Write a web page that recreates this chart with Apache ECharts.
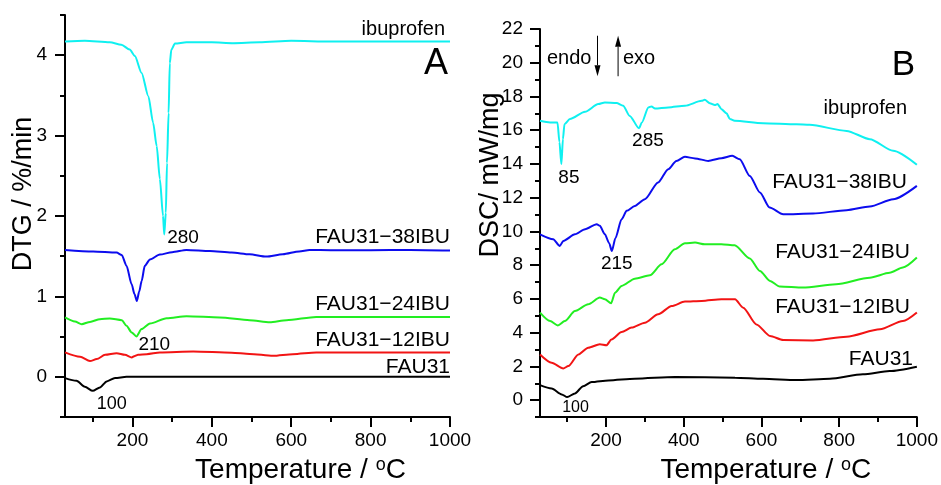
<!DOCTYPE html>
<html>
<head>
<meta charset="utf-8">
<script src="https://cdn.jsdelivr.net/npm/echarts@6/dist/echarts.min.js"></script>
<style>
  html, body { margin: 0; padding: 0; background: #fff; }
  #chart { width: 941px; height: 485px; }
</style>
</head>
<body>
<div id="chart"></div>
<script>
// ---------- Panel A: DTG (%/min) vs temperature (°C) ----------
const dtgIbuT = [30, 80, 143, 172, 193, 206, 223, 240, 252, 261, 269, 277, 280, 284, 287, 291, 294, 298, 307, 336, 400, 453, 520, 600, 700, 800, 900, 1000];
const dtgIbuV = [4.17, 4.18, 4.16, 4.13, 4.07, 3.99, 3.78, 3.49, 3.16, 2.87, 2.46, 2.0, 1.77, 2.04, 2.66, 3.28, 3.9, 4.07, 4.145, 4.16, 4.16, 4.15, 4.16, 4.18, 4.17, 4.17, 4.17, 4.17];

const dtg38T = [30, 101, 160, 173, 185, 198, 205, 211, 217, 223, 231, 244, 269, 300, 336, 395, 450, 495, 537, 579, 620, 646, 700, 800, 900, 1000];
const dtg38V = [1.578, 1.558, 1.545, 1.515, 1.38, 1.15, 1.03, 0.944, 1.06, 1.19, 1.38, 1.46, 1.52, 1.55, 1.578, 1.565, 1.545, 1.524, 1.495, 1.524, 1.56, 1.578, 1.575, 1.575, 1.578, 1.57];

const dtg24T = [30, 55, 72, 93, 118, 143, 173, 185, 198, 210, 223, 244, 286, 336, 420, 495, 546, 588, 663, 800, 1000];
const dtg24V = [0.738, 0.688, 0.655, 0.683, 0.717, 0.725, 0.704, 0.634, 0.552, 0.502, 0.593, 0.663, 0.729, 0.754, 0.738, 0.704, 0.68, 0.704, 0.745, 0.745, 0.745];

const dtg12T = [30, 68, 93, 110, 131, 160, 181, 198, 206, 214, 236, 269, 353, 450, 495, 554, 604, 663, 800, 1000];
const dtg12V = [0.303, 0.248, 0.195, 0.22, 0.273, 0.294, 0.273, 0.24, 0.26, 0.273, 0.282, 0.303, 0.315, 0.3, 0.285, 0.261, 0.282, 0.303, 0.303, 0.303];

const dtgFauT = [30, 59, 80, 100, 118, 135, 156, 185, 300, 500, 700, 1000];
const dtgFauV = [-0.016, -0.05, -0.124, -0.175, -0.132, -0.057, -0.016, 0, 0, 0, 0, 0];

const dtgPeakT = [280, 210, 100];          // ibuprofen, FAU31−24IBU, FAU31

// ---------- Panel B: DSC (mW/mg) vs temperature (°C) ----------
const dscIbuT = [30, 56, 75, 80, 85, 89, 93, 107, 146, 180, 197, 227, 244, 261, 285, 292, 309, 317, 326, 360, 403, 446, 454, 467, 480, 487, 497, 510, 519, 531, 604, 690, 724, 819, 879, 939, 1000];
const dscIbuV = [16.56, 16.46, 16.46, 15.3, 13.99, 15.47, 16.36, 16.66, 17.09, 17.55, 17.65, 17.61, 17.45, 16.85, 16.11, 16.46, 17.35, 17.41, 17.29, 17.35, 17.45, 17.74, 17.8, 17.6, 17.49, 17.55, 17.25, 17.0, 16.66, 16.56, 16.42, 16.36, 16.32, 15.96, 15.47, 14.78, 13.95];

const dsc38T = [30, 64, 81, 90, 120, 146, 176, 184, 197, 208, 215, 224, 240, 253, 274, 300, 334, 360, 381, 403, 429, 463, 497, 525, 544, 570, 596, 621, 656, 733, 819, 879, 939, 1000];
const dsc38V = [9.83, 9.54, 9.14, 9.44, 9.83, 10.13, 10.43, 10.33, 9.83, 9.3, 8.84, 9.6, 10.72, 11.22, 11.51, 11.91, 12.9, 13.69, 14.18, 14.42, 14.33, 14.18, 14.34, 14.48, 14.28, 13.29, 12.31, 11.42, 11.02, 11.06, 11.26, 11.48, 11.91, 12.7];

const dsc24T = [30, 56, 76, 94, 120, 154, 184, 197, 213, 223, 240, 274, 313, 343, 377, 403, 429, 454, 497, 531, 570, 596, 622, 647, 707, 792, 879, 930, 964, 1000];
const dsc24V = [5.19, 4.69, 4.43, 4.69, 5.28, 5.68, 6.08, 5.98, 5.74, 6.37, 6.77, 7.2, 7.4, 8.05, 8.94, 9.3, 9.34, 9.24, 9.24, 9.18, 8.4, 7.66, 7.06, 6.73, 6.67, 6.87, 7.26, 7.55, 7.86, 8.45];

const dsc12T = [30, 60, 90, 103, 129, 154, 184, 201, 214, 240, 266, 300, 334, 369, 403, 446, 497, 532, 553, 587, 622, 656, 733, 819, 905, 964, 1000];
const dsc12V = [2.71, 2.22, 1.88, 2.02, 2.71, 3.11, 3.31, 3.25, 3.6, 4.04, 4.3, 4.59, 5.09, 5.58, 5.84, 5.88, 5.98, 5.98, 5.48, 4.49, 3.8, 3.56, 3.54, 3.76, 4.2, 4.69, 5.2];

const dscFauT = [30, 60, 86, 100, 120, 141, 163, 206, 274, 377, 532, 604, 690, 776, 861, 930, 1000];
const dscFauV = [0.89, 0.69, 0.34, 0.18, 0.4, 0.83, 1.07, 1.17, 1.27, 1.37, 1.33, 1.27, 1.19, 1.27, 1.53, 1.72, 1.98];

const dscPeakT = [85, 285, 215, 100];      // ibuprofen (x2), FAU31−38IBU, FAU31

// Axis tick values
const tempMajor = [200, 400, 600, 800, 1000];
const tempMinor = [100, 300, 500, 700, 900];
const dtgMajor = [0, 1, 2, 3, 4];
const dtgMinor = [-0.5, 0.5, 1.5, 2.5, 3.5, 4.5];
const dscMajor = [0, 2, 4, 6, 8, 10, 12, 14, 16, 18, 20, 22];
const dscMinor = [-1, 1, 3, 5, 7, 9, 11, 13, 15, 17, 19, 21];

// Endo / exo direction arrows (temperature, DSC value at tail and at head)
const endoArrow = { t: 178, from: 21.6, to: 19.2 };
const exoArrow = { t: 231, from: 19.2, to: 21.6 };

// ---------- styling ----------
const FONT = "'Liberation Sans', Arial, Helvetica, sans-serif";
const COL = { cyan: '#0ff0f0', blue: '#0c0cee', green: '#22ee22', red: '#f21414', black: '#000000' };

const pairs = (t, v) => t.map((x, i) => [x, v[i]]);
const valueAt = (t, v, x) => v[t.indexOf(x)];

function peakMark(t, v, peaks) {
  return {
    symbol: 'circle',
    symbolSize: 1,
    itemStyle: { color: 'rgba(0,0,0,0)' },
    silent: true,
    animation: false,
    data: peaks.map(p => ({
      coord: [p.t, valueAt(t, v, p.t)],
      value: p.t,
      label: {
        show: true, position: 'inside', formatter: '{c}',
        align: 'left', verticalAlign: 'middle',
        offset: p.offset, color: '#000', fontFamily: FONT, fontSize: p.size || 19
      }
    }))
  };
}

function curve(name, t, v, panel, color, extra) {
  return Object.assign({
    name, type: 'line',
    xAxisIndex: panel * 2, yAxisIndex: panel * 2,
    data: pairs(t, v),
    showSymbol: false, symbol: 'none',
    smooth: 0.25, smoothMonotone: 'x',
    lineStyle: { color, width: 2 },
    itemStyle: { color },
    animation: false, silent: true, z: 3
  }, extra || {});
}

function valueAxis(gridIndex, position, min, max, labels, ticks, shown, margin) {
  return {
    type: 'value', gridIndex, position, min, max,
    axisLine: { show: shown, onZero: false, lineStyle: { color: '#000', width: 2 } },
    axisTick: { show: true, inside: false, customValues: ticks, length: shown ? 10 : 5, lineStyle: { color: '#000', width: 2 } },
    axisLabel: shown
      ? { show: true, customValues: labels, formatter: val => String(val), color: '#000', fontFamily: FONT, fontSize: 19, margin }
      : { show: false },
    splitLine: { show: false }
  };
}

const chart = echarts.init(document.getElementById('chart'), null, { renderer: 'canvas' });

const series = [
  curve('ibuprofen', dtgIbuT, dtgIbuV, 0, COL.cyan, {
    markPoint: peakMark(dtgIbuT, dtgIbuV, [{ t: dtgPeakT[0], offset: [3, 3] }])
  }),
  curve('FAU31−38IBU', dtg38T, dtg38V, 0, COL.blue),
  curve('FAU31−24IBU', dtg24T, dtg24V, 0, COL.green, {
    markPoint: peakMark(dtg24T, dtg24V, [{ t: dtgPeakT[1], offset: [2, 8] }])
  }),
  curve('FAU31−12IBU', dtg12T, dtg12V, 0, COL.red),
  curve('FAU31', dtgFauT, dtgFauV, 0, COL.black, {
    markPoint: peakMark(dtgFauT, dtgFauV, [{ t: dtgPeakT[2], offset: [4, 13], size: 18 }])
  }),

  curve('ibuprofen', dscIbuT, dscIbuV, 1, COL.cyan, {
    markPoint: peakMark(dscIbuT, dscIbuV, [
      { t: dscPeakT[0], offset: [-3, 14] },
      { t: dscPeakT[1], offset: [-7, 12] }
    ])
  }),
  curve('FAU31−38IBU', dsc38T, dsc38V, 1, COL.blue, {
    markPoint: peakMark(dsc38T, dsc38V, [{ t: dscPeakT[2], offset: [-11, 13] }])
  }),
  curve('FAU31−24IBU', dsc24T, dsc24V, 1, COL.green),
  curve('FAU31−12IBU', dsc12T, dsc12V, 1, COL.red),
  curve('FAU31', dscFauT, dscFauV, 1, COL.black, {
    markPoint: peakMark(dscFauT, dscFauV, [{ t: dscPeakT[3], offset: [-5, 10], size: 16 }])
  })
];

function txt(text, x, y, size, align, extra) {
  return Object.assign({
    type: 'text', x, y, silent: true, z: 10,
    style: { text, font: `${size}px ${FONT}`, fill: '#000', align: align || 'right', verticalAlign: 'middle' }
  }, extra || {});
}

function tempTitle(cx, cy) {
  return {
    type: 'text', x: cx, y: cy, silent: true, z: 10,
    style: {
      text: '{a|Temperature / }{b|o}{a|C}',
      align: 'center', verticalAlign: 'middle', fill: '#000',
      rich: {
        a: { fontFamily: FONT, fontSize: 28, lineHeight: 28, fill: '#000' },
        b: { fontFamily: FONT, fontSize: 18, lineHeight: 12, verticalAlign: 'top', fill: '#000' }
      }
    }
  };
}

const option = {
  backgroundColor: '#ffffff',
  animation: false,
  grid: [
    { left: 65, top: 15, width: 385, height: 402, containLabel: false },
    { left: 540, top: 29, width: 377, height: 388, containLabel: false }
  ],
  xAxis: [
    valueAxis(0, 'bottom', 30, 1000, tempMajor, tempMajor, true, 14),
    valueAxis(0, 'bottom', 30, 1000, null, tempMinor, false),
    valueAxis(1, 'bottom', 30, 1000, tempMajor, tempMajor, true, 14),
    valueAxis(1, 'bottom', 30, 1000, null, tempMinor, false)
  ],
  yAxis: [
    valueAxis(0, 'left', -0.5, 4.5, dtgMajor, dtgMajor, true, 18),
    valueAxis(0, 'left', -0.5, 4.5, null, dtgMinor, false),
    valueAxis(1, 'left', -1, 22, dscMajor, dscMajor, true, 17),
    valueAxis(1, 'left', -1, 22, null, dscMinor, false)
  ],
  series,
  graphic: [
    // curve names, panel A
    txt('ibuprofen', 445, 29, 20),
    txt('FAU31−38IBU', 450, 237.5, 21),
    txt('FAU31−24IBU', 450, 304.5, 21),
    txt('FAU31−12IBU', 450, 340.5, 21),
    txt('FAU31', 450, 367.5, 21),
    // curve names, panel B
    txt('ibuprofen', 907, 108, 20),
    txt('FAU31−38IBU', 907, 182.5, 21),
    txt('FAU31−24IBU', 910, 252.5, 21),
    txt('FAU31−12IBU', 910, 307.5, 21),
    txt('FAU31', 913, 359, 21),
    // panel letters
    txt('A', 448, 64, 36),
    txt('B', 915, 65.5, 35),
    // endo / exo
    txt('endo', 547, 58, 20, 'left'),
    txt('exo', 623, 58, 20, 'left'),
    // axis titles
    tempTitle(300.5, 470),
    tempTitle(765.8, 470),
    txt('DTG / %/min', 24, 194, 27, 'center', { rotation: Math.PI / 2 }),
    txt('DSC/ mW/mg', 491, 175, 27, 'center', { rotation: Math.PI / 2 })
  ]
};

chart.setOption(option);

// Endo / exo arrows, placed through the panel B scales
function arrowGraphic(a, id) {
  const tail = chart.convertToPixel({ gridIndex: 1 }, [a.t, a.from]);
  const head = chart.convertToPixel({ gridIndex: 1 }, [a.t, a.to]);
  const dir = head[1] > tail[1] ? 1 : -1;
  const headLen = 11, headHalf = 3;
  return [
    { type: 'line', id: id + '-shaft', silent: true, z: 10,
      shape: { x1: tail[0], y1: tail[1], x2: head[0], y2: head[1] - dir * headLen },
      style: { stroke: '#000', lineWidth: 1 } },
    { type: 'polygon', id: id + '-head', silent: true, z: 10,
      shape: { points: [[head[0], head[1]], [head[0] - headHalf, head[1] - dir * headLen], [head[0] + headHalf, head[1] - dir * headLen]] },
      style: { fill: '#000' } }
  ];
}
chart.setOption({ graphic: [...arrowGraphic(endoArrow, 'endo'), ...arrowGraphic(exoArrow, 'exo')] });
</script>
</body>
</html>
